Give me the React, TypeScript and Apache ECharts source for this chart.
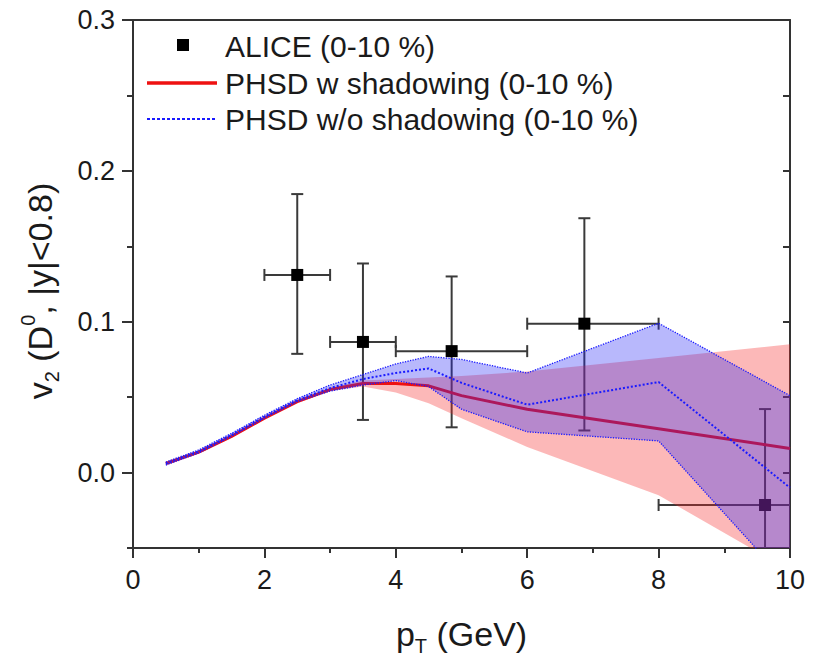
import React, { useEffect, useRef } from "react";
import * as echarts from "echarts";

// ---------- data ----------
const yMajorTicks = [0, 0.1, 0.2, 0.3];

const legendLabels = [
  "ALICE (0-10 %)",
  "PHSD w shadowing (0-10 %)",
  "PHSD w/o shadowing (0-10 %)",
];

// ALICE D0 v2 points (0-10 %)
const aliceX = [2.5, 3.5, 4.85, 6.87, 9.62];
const aliceY = [0.131, 0.0866, 0.0805, 0.0987, -0.0215];
const aliceXLow = [2, 3, 4, 6, 8];
const aliceXHigh = [3, 4, 6, 8, 12];
const aliceYLow = [0.0787, 0.0349, 0.03, 0.0279, -0.085];
const aliceYHigh = [0.1846, 0.1386, 0.13, 0.1686, 0.0421];

// PHSD curves
const pt = [0.5, 1, 1.5, 2, 2.5, 3, 3.5, 4, 4.5, 5, 6, 8, 10];
const shadowMid = [0.006, 0.0135, 0.024, 0.036, 0.047, 0.055, 0.059, 0.059, 0.0575, 0.051, 0.042, 0.029, 0.016];
const shadowLow = [0.005, 0.0125, 0.023, 0.035, 0.046, 0.054, 0.057, 0.053, 0.046, 0.036, 0.017, -0.015, -0.065];
const shadowHigh = [0.007, 0.0145, 0.025, 0.037, 0.048, 0.056, 0.061, 0.062, 0.063, 0.064, 0.067, 0.076, 0.085];
const noShadowMid = [0.006, 0.014, 0.025, 0.037, 0.048, 0.056, 0.062, 0.066, 0.069, 0.0595, 0.045, 0.06, -0.01];
const noShadowLow = [0.005, 0.013, 0.024, 0.036, 0.047, 0.054, 0.058, 0.061, 0.057, 0.042, 0.027, 0.021, -0.075];
const noShadowHigh = [0.007, 0.015, 0.026, 0.038, 0.049, 0.058, 0.065, 0.072, 0.077, 0.075, 0.066, 0.099, 0.051];

// ---------- styling ----------
const FONT = "'Liberation Sans', Arial, Helvetica, sans-serif";
const AXIS = "#333";
const TEXT = "#1a1a1a";
const RED = "#ee1111";
const BLUE = "#1a1aff";

const pairs = (xs: number[], ys: number[]) => xs.map((x, i) => [x, ys[i]]);

function bandSeries(name: string, lo: number[], hi: number[], fill: string, z: number) {
  return {
    name,
    type: "custom",
    clip: true,
    silent: true,
    z,
    data: pt.map((x, i) => [x, lo[i], hi[i]]),
    encode: { x: 0, y: [1, 2] },
    renderItem: (params: any, api: any) => {
      if (params.dataIndex !== 0) return null;
      const pts: number[][] = [];
      for (let i = 0; i < pt.length; i++) pts.push(api.coord([pt[i], hi[i]]));
      for (let i = pt.length - 1; i >= 0; i--) pts.push(api.coord([pt[i], lo[i]]));
      const cs = params.coordSys;
      return {
        type: "polygon",
        shape: { points: pts },
        style: { fill, stroke: null },
        clipPath: { type: "rect", shape: { x: cs.x, y: cs.y, width: cs.width, height: cs.height } },
      };
    },
  };
}

function lineSeries(name: string, ys: number[], color: string, width: number, type: string, z: number) {
  return {
    name,
    type: "line",
    z,
    data: pairs(pt, ys),
    symbol: "none",
    clip: true,
    silent: true,
    lineStyle: { color, width, type },
  };
}

export default function App() {
  const ref = useRef<HTMLDivElement>(null);

  useEffect(() => {
    document.body.style.margin = "0";
    if (!ref.current) return;
    const chart = echarts.init(ref.current, undefined, { renderer: "svg" });

    const errData = aliceX.map((x, i) => [x, aliceY[i], aliceXLow[i], aliceXHigh[i], aliceYLow[i], aliceYHigh[i]]);

    const option: any = {
      animation: false,
      backgroundColor: "#fff",
      grid: { left: 133, right: 27, top: 20, bottom: 108, containLabel: false },
      xAxis: [
        {
          type: "value",
          position: "bottom",
          min: 0,
          max: 10,
          interval: 2,
          axisLine: { show: true, onZero: false, lineStyle: { color: AXIS, width: 2 } },
          axisTick: { show: true, inside: false, length: 10, lineStyle: { color: AXIS, width: 2 } },
          minorTick: { show: true, splitNumber: 2, length: 5, lineStyle: { color: AXIS, width: 2 } },
          axisLabel: { fontSize: 27, color: TEXT, fontFamily: FONT, margin: 18 },
          splitLine: { show: false },
          minorSplitLine: { show: false },
          name: "{a|p}{s|T}{a| (GeV)}",
          nameLocation: "middle",
          nameGap: 64,
          nameTextStyle: {
            rich: {
              a: { fontSize: 34, fontFamily: FONT, color: TEXT, lineHeight: 44 },
              s: { fontSize: 20, fontFamily: FONT, color: TEXT, verticalAlign: "bottom" },
            },
          },
        },
        {
          type: "value",
          position: "top",
          min: 0,
          max: 10,
          axisLine: { show: true, onZero: false, lineStyle: { color: AXIS, width: 2 } },
          axisTick: { show: false },
          axisLabel: { show: false },
          splitLine: { show: false },
        },
      ],
      yAxis: [
        {
          type: "value",
          position: "left",
          min: -0.05,
          max: 0.3,
          interval: 0.05,
          axisLine: { show: true, onZero: false, lineStyle: { color: AXIS, width: 2 } },
          axisTick: { show: true, length: 11, customValues: yMajorTicks, lineStyle: { color: AXIS, width: 2 } },
          axisLabel: {
            customValues: yMajorTicks,
            fontSize: 27,
            color: TEXT,
            fontFamily: FONT,
            margin: 18,
            formatter: (v: number) => {
              const t = Math.round(v * 100);
              return t >= 0 && t % 10 === 0 ? (t / 100).toFixed(1) : "";
            },
          },
          splitLine: { show: false },
          name: "{a|v}{s|2}{a| (D}{p|0}{a|, |y|<0.8)}",
          nameLocation: "middle",
          nameRotate: 90,
          nameGap: 71,
          nameTextStyle: {
            padding: [0, 14, 0, 0],
            rich: {
              a: { fontSize: 34, fontFamily: FONT, color: TEXT, lineHeight: 44 },
              s: { fontSize: 20, fontFamily: FONT, color: TEXT, verticalAlign: "bottom" },
              p: { fontSize: 20, fontFamily: FONT, color: TEXT, verticalAlign: "top" },
            },
          },
        },
        {
          type: "value",
          position: "left",
          min: -0.05,
          max: 0.3,
          interval: 0.05,
          axisLine: { show: false, onZero: false },
          axisTick: { show: true, length: 6, lineStyle: { color: AXIS, width: 2 } },
          axisLabel: { show: false },
          splitLine: { show: false },
        },
        {
          type: "value",
          position: "right",
          min: -0.05,
          max: 0.3,
          interval: 0.05,
          axisLine: { show: true, onZero: false, lineStyle: { color: AXIS, width: 2 } },
          axisTick: { show: true, inside: true, length: 7, lineStyle: { color: AXIS, width: 2 } },
          axisLabel: { show: false },
          splitLine: { show: false },
        },
      ],
      series: [
        {
          name: legendLabels[0],
          type: "custom",
          clip: true,
          z: 1,
          data: errData,
          encode: { x: 0, y: 1 },
          renderItem: (params: any, api: any) => {
            const x = api.value(0), y = api.value(1);
            const xl = api.value(2), xh = api.value(3), yl = api.value(4), yh = api.value(5);
            const c = api.coord([x, y]);
            const pl = api.coord([xl, y]);
            const ph = api.coord([xh, y]);
            const pb = api.coord([x, yl]);
            const pu = api.coord([x, yh]);
            const cap = 6;
            const st = { stroke: "#3a3a3a", lineWidth: 2, fill: null };
            const cs = params.coordSys;
            return {
              type: "group",
              clipPath: { type: "rect", shape: { x: cs.x, y: cs.y, width: cs.width, height: cs.height } },
              children: [
                { type: "line", shape: { x1: pl[0], y1: c[1], x2: ph[0], y2: c[1] }, style: st },
                { type: "line", shape: { x1: c[0], y1: pb[1], x2: c[0], y2: pu[1] }, style: st },
                { type: "line", shape: { x1: pl[0], y1: c[1] - cap, x2: pl[0], y2: c[1] + cap }, style: st },
                { type: "line", shape: { x1: ph[0], y1: c[1] - cap, x2: ph[0], y2: c[1] + cap }, style: st },
                { type: "line", shape: { x1: c[0] - cap, y1: pb[1], x2: c[0] + cap, y2: pb[1] }, style: st },
                { type: "line", shape: { x1: c[0] - cap, y1: pu[1], x2: c[0] + cap, y2: pu[1] }, style: st },
                { type: "rect", shape: { x: c[0] - 6, y: c[1] - 6, width: 12, height: 12 }, style: { fill: "#000" } },
              ],
            };
          },
        },
        bandSeries("shadowBand", shadowLow, shadowHigh, "rgba(245,40,40,0.33)", 2),
        lineSeries(legendLabels[1], shadowMid, RED, 3, "solid", 3),
        bandSeries("noShadowBand", noShadowLow, noShadowHigh, "rgba(40,40,245,0.33)", 4),
        lineSeries("noShadowHighEdge", noShadowHigh, BLUE, 1.3, "dotted", 5),
        lineSeries("noShadowLowEdge", noShadowLow, BLUE, 1.3, "dotted", 5),
        lineSeries(legendLabels[2], noShadowMid, BLUE, 2, "dotted", 5),
      ],
      graphic: [
        { type: "rect", shape: { x: 177, y: 39, width: 12, height: 12 }, style: { fill: "#000" } },
        {
          type: "text", x: 225, y: 46,
          style: { text: legendLabels[0], fontSize: 30, fontFamily: FONT, fill: TEXT, verticalAlign: "middle" },
        },
        { type: "line", shape: { x1: 147, y1: 83, x2: 217, y2: 83 }, style: { stroke: RED, lineWidth: 3.5 } },
        {
          type: "text", x: 225, y: 83,
          style: { text: legendLabels[1], fontSize: 30, fontFamily: FONT, fill: TEXT, verticalAlign: "middle" },
        },
        { type: "line", shape: { x1: 147, y1: 119, x2: 217, y2: 119 }, style: { stroke: BLUE, lineWidth: 2, lineDash: [3, 2] } },
        {
          type: "text", x: 225, y: 119,
          style: { text: legendLabels[2], fontSize: 30, fontFamily: FONT, fill: TEXT, verticalAlign: "middle" },
        },
      ],
    };

    chart.setOption(option);
    return () => chart.dispose();
  }, []);

  return <div ref={ref} style={{ width: 817, height: 661 }} />;
}
